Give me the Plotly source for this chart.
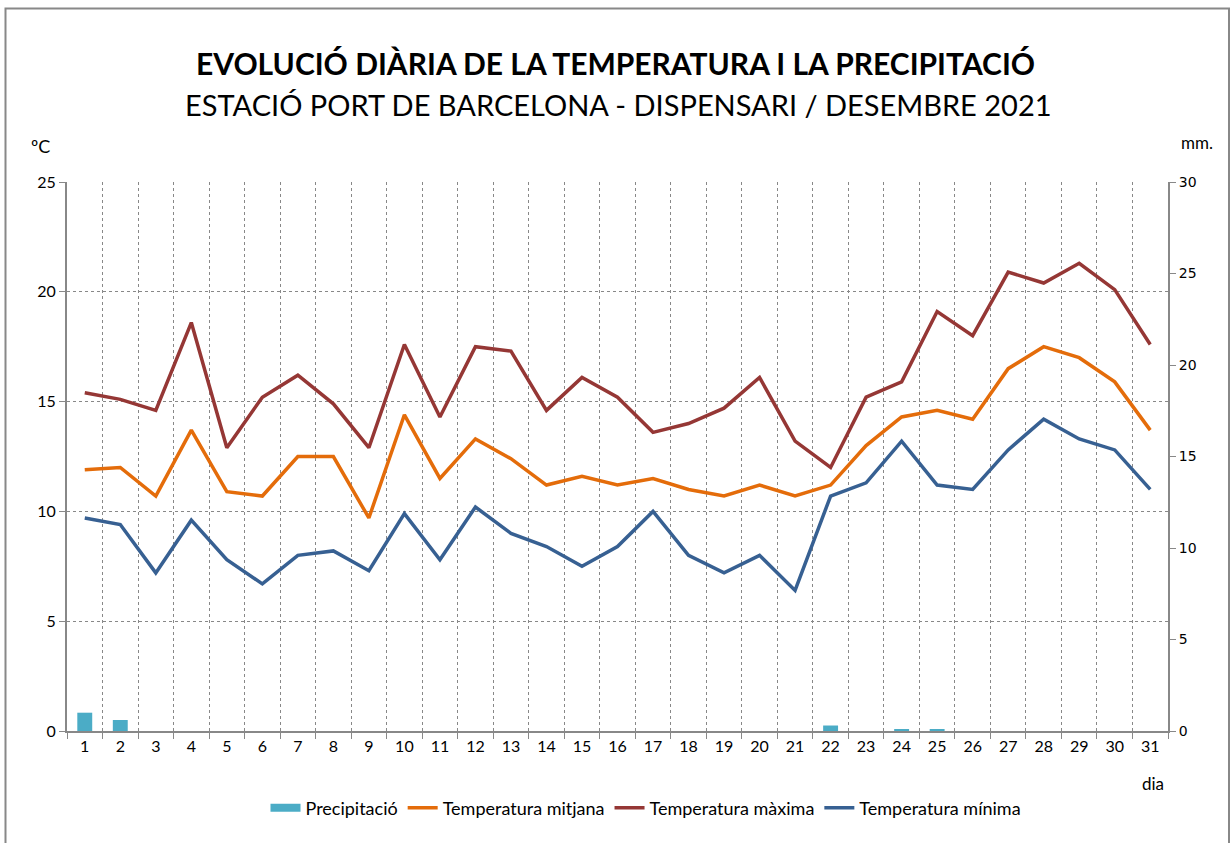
import plotly.graph_objects as go

dies = [str(d) for d in range(1, 32)]
t_max = [15.4, 15.1, 14.6, 18.6, 12.9, 15.2, 16.2, 14.9, 12.9, 17.6, 14.3, 17.5, 17.3, 14.6, 16.1, 15.2,
         13.6, 14.0, 14.7, 16.1, 13.2, 12.0, 15.2, 15.9, 19.1, 18.0, 20.9, 20.4, 21.3, 20.1, 17.6]
t_mitjana = [11.9, 12.0, 10.7, 13.7, 10.9, 10.7, 12.5, 12.5, 9.7, 14.4, 11.5, 13.3, 12.4, 11.2, 11.6, 11.2,
             11.5, 11.0, 10.7, 11.2, 10.7, 11.2, 13.0, 14.3, 14.6, 14.2, 16.5, 17.5, 17.0, 15.9, 13.7]
t_min = [9.7, 9.4, 7.2, 9.6, 7.8, 6.7, 8.0, 8.2, 7.3, 9.9, 7.8, 10.2, 9.0, 8.4, 7.5, 8.4,
         10.0, 8.0, 7.2, 8.0, 6.4, 10.7, 11.3, 13.2, 11.2, 11.0, 12.8, 14.2, 13.3, 12.8, 11.0]
precip = [1.0, 0.6, 0, 0, 0, 0, 0, 0, 0, 0, 0, 0, 0, 0, 0, 0,
          0, 0, 0, 0, 0, 0.3, 0, 0.1, 0.1, 0, 0, 0, 0, 0, 0]

FONT = "Lato"
W, H = 1232, 843
L, T, PW, PH = 67, 182, 1101, 549


def px(x):
    return (x - L) / PW


def py(y):
    return (T + PH - y) / PH


fig = go.Figure()
fig.add_trace(go.Bar(x=dies, y=precip, name="Precipitació", yaxis="y2", showlegend=False,
                     legendgroup="p", marker=dict(color="#4BACC6", line=dict(width=0)), width=0.42))
fig.add_trace(go.Scatter(x=[None], y=[None], name="Precipitació", mode="lines", legendgroup="p",
                         line=dict(color="#4BACC6", width=8)))
fig.add_trace(go.Scatter(x=dies, y=t_mitjana, name="Temperatura mitjana", mode="lines",
                         line=dict(color="#E46C0A", width=3.5)))
fig.add_trace(go.Scatter(x=dies, y=t_max, name="Temperatura màxima", mode="lines",
                         line=dict(color="#953735", width=3.5)))
fig.add_trace(go.Scatter(x=dies, y=t_min, name="Temperatura mínima", mode="lines",
                         line=dict(color="#376092", width=3.5)))

fig.update_layout(
    width=W, height=H,
    margin=dict(l=L, r=W - L - PW, t=T, b=H - T - PH),
    paper_bgcolor="white", plot_bgcolor="white",
    font=dict(family=FONT, size=15, color="black"),
    showlegend=True,
    legend=dict(orientation="h", x=px(646), xanchor="center", y=py(808), yanchor="middle",
                font=dict(family=FONT, size=18), traceorder="normal", itemwidth=30),
    xaxis=dict(type="category", tickson="boundaries", ticks="outside", ticklen=6,
               tickcolor="#888", showline=True, linecolor="#888", linewidth=2,
               showgrid=True, gridcolor="#888", griddash="dot", gridwidth=1,
               tickfont=dict(family=FONT, size=16), range=[-0.5, 30.5]),
    yaxis=dict(range=[0, 25], dtick=5, ticks="outside", ticklen=6, tickcolor="#888",
               showline=True, linecolor="#888", linewidth=2,
               showgrid=True, gridcolor="#888", griddash="dot", gridwidth=1,
               zeroline=False, tickfont=dict(family=FONT, size=16)),
    yaxis2=dict(range=[0, 30], dtick=5, overlaying="y", side="right", ticks="outside",
                ticklen=6, tickcolor="#888", showline=True, linecolor="#888", linewidth=2,
                showgrid=False, zeroline=False, tickfont=dict(family="DejaVu Sans", size=14)),
    annotations=[
        dict(text="<b>EVOLUCIÓ DIÀRIA DE LA TEMPERATURA I LA PRECIPITACIÓ</b>", xref="paper", yref="paper",
             x=px(615), y=py(63), xanchor="center", yanchor="middle", showarrow=False,
             font=dict(family=FONT, size=30)),
        dict(text="ESTACIÓ PORT DE BARCELONA - DISPENSARI / DESEMBRE 2021", xref="paper", yref="paper",
             x=px(618), y=py(104), xanchor="center", yanchor="middle", showarrow=False,
             font=dict(family=FONT, size=29)),
        dict(text="ºC", xref="paper", yref="paper", x=px(40), y=py(146),
             xanchor="center", yanchor="middle", showarrow=False, font=dict(family=FONT, size=18)),
        dict(text="mm.", xref="paper", yref="paper", x=px(1197), y=py(142),
             xanchor="center", yanchor="middle", showarrow=False, font=dict(family=FONT, size=17)),
        dict(text="dia", xref="paper", yref="paper", x=px(1153), y=py(783),
             xanchor="center", yanchor="middle", showarrow=False, font=dict(family=FONT, size=17)),
    ],
    shapes=[
        dict(type="rect", xref="paper", yref="paper",
             x0=px(5.5), x1=px(1229), y0=py(900), y1=py(8.5),
             line=dict(color="#888", width=2), fillcolor="rgba(0,0,0,0)", layer="below"),
    ],
)

fig.write_html("out.html", config={"displayModeBar": False},
               post_script="document.body.style.margin='0';document.body.style.overflow='hidden';")
